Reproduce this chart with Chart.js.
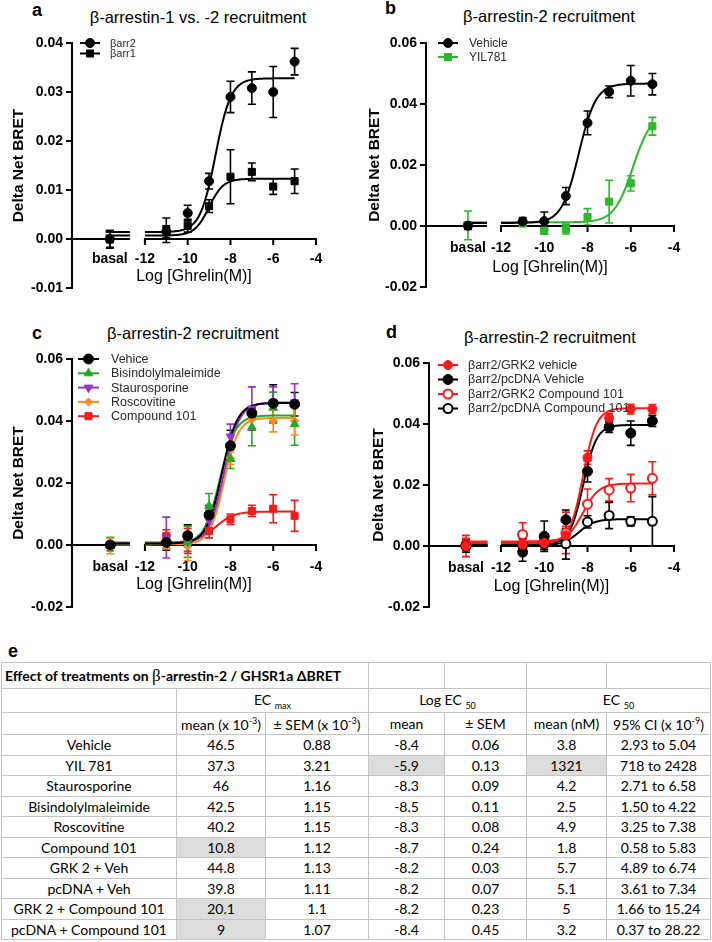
<!DOCTYPE html>
<html>
<head>
<meta charset="utf-8">
<script src="https://cdn.jsdelivr.net/npm/chart.js"></script>
<style>
  body { margin: 0; background: #fff; width: 712px; height: 942px; position: relative; overflow: hidden;
         font-family: "Liberation Sans", Arial, sans-serif; color: #000; }
  canvas { position: absolute; }
  .letter { position: absolute; font-weight: bold; font-size: 18px; line-height: 20px; }
  .title { position: absolute; width: 300px; text-align: center; font-size: 16.5px; line-height: 20px; }
  #tbl { position: absolute; left: 1px; top: 662px; border-collapse: collapse; table-layout: fixed;
         font-family: Lato, "Open Sans", sans-serif; font-size: 14px; }
  #tbl td { border: 1px solid #c4c4c4; text-align: center; padding: 0; white-space: nowrap; }
  #tbl td.grey { background: #dcdcdc; }
  #tbl sub, #tbl sup { font-size: 9px; }
</style>
</head>
<body>
<div class="letter" style="left:32px;top:0px">a</div>
<div class="title" style="left:48px;top:7px">&beta;-arrestin-1 vs. -2 recruitment</div>
<div class="letter" style="left:385px;top:-2px">b</div>
<div class="title" style="left:399px;top:6px">&beta;-arrestin-2 recruitment</div>
<div class="letter" style="left:32px;top:323px">c</div>
<div class="title" style="left:43px;top:323px">&beta;-arrestin-2 recruitment</div>
<div class="letter" style="left:386px;top:322px">d</div>
<div class="title" style="left:400px;top:327px">&beta;-arrestin-2 recruitment</div>
<div class="letter" style="left:8px;top:641px">e</div>

<canvas id="chartA" width="356" height="300" style="left:0;top:0"></canvas>
<canvas id="chartB" width="356" height="300" style="left:356px;top:0"></canvas>
<canvas id="chartC" width="356" height="330" style="left:0;top:300px"></canvas>
<canvas id="chartD" width="356" height="330" style="left:356px;top:300px"></canvas>
<table id="tbl"></table>

<script>
// x categories: log[ghrelin] doses; every series array below starts with the basal value
const doseLog = [-11, -10, -9, -8, -7, -6, -5];
const xTickValues = [-12, -10, -8, -6, -4];

// fits are [bottom, top, logEC50, hill]
// panel a
const arr2Mean = [0.0000, 0.0015, 0.0053, 0.0118, 0.0290, 0.0308, 0.0300, 0.0362];
const arr2Sem  = [0.0017, 0.0012, 0.0016, 0.0016, 0.0032, 0.0033, 0.0052, 0.0027];
const arr2Fit  = [0.0014, 0.0328, -8.7, 1.2];
const arr1Mean = [-0.0001, 0.0018, 0.0027, 0.0067, 0.0127, 0.0137, 0.0107, 0.0118];
const arr1Sem  = [0.0018, 0.0025, 0.0013, 0.0013, 0.0055, 0.0018, 0.0016, 0.0025];
const arr1Fit  = [0.0007, 0.0123, -9.0, 1.3];

// panel b
const vehBMean = [0.0001, 0.0015, 0.0016, 0.0098, 0.0338, 0.0440, 0.0476, 0.0465];
const vehBSem  = [0.0012, 0.0013, 0.0030, 0.0028, 0.0039, 0.0019, 0.0050, 0.0035];
const vehBFit  = [0.0010, 0.0467, -8.4, 1.1];
const yilMean  = [0.0002, 0.0008, -0.0015, -0.0010, 0.0030, 0.0080, 0.0140, 0.0327];
const yilSem   = [0.0047, 0.0008, 0.0012, 0.0016, 0.0027, 0.0070, 0.0025, 0.0029];
const yilFit   = [0.0012, 0.0373, -5.9, 1.0];

// panel c
const vehCMean = [0.0000, 0.0008, 0.0030, 0.0097, 0.0320, 0.0425, 0.0457, 0.0454];
const vehCSem  = [0.0010, 0.0025, 0.0035, 0.0030, 0.0050, 0.0015, 0.0060, 0.0038];
const vehCFit  = [0.0005, 0.0458, -8.4, 1.2];
const bisMean  = [0.0003, 0.0010, 0.0010, 0.0126, 0.0277, 0.0380, 0.0443, 0.0390];
const bisSem   = [0.0022, 0.0020, 0.0050, 0.0040, 0.0030, 0.0060, 0.0050, 0.0068];
const bisFit   = [0.0005, 0.0418, -8.5, 1.2];
const stauMean = [0.0000, 0.0024, 0.0010, 0.0080, 0.0350, 0.0440, 0.0460, 0.0460];
const stauSem  = [0.0010, 0.0066, 0.0030, 0.0030, 0.0040, 0.0070, 0.0050, 0.0060];
const stauFit  = [0.0005, 0.0460, -8.3, 1.2];
const roscMean = [-0.0003, 0.0010, -0.0005, 0.0085, 0.0280, 0.0405, 0.0400, 0.0400];
const roscSem  = [0.0025, 0.0020, 0.0045, 0.0030, 0.0020, 0.0030, 0.0035, 0.0045];
const roscFit  = [0.0002, 0.0410, -8.3, 1.3];
const cmpMean  = [0.0000, 0.0029, 0.0013, 0.0045, 0.0083, 0.0110, 0.0117, 0.0094];
const cmpSem   = [0.0010, 0.0020, 0.0040, 0.0022, 0.0017, 0.0018, 0.0045, 0.0050];
const cmpFit   = [0.0008, 0.0108, -8.7, 1.0];

// panel d
const grkVehMean = [0.0000, 0.0005, 0.0010, 0.0035, 0.0290, 0.0420, 0.0449, 0.0449];
const grkVehSem  = [0.0035, 0.0020, 0.0020, 0.0030, 0.0022, 0.0015, 0.0016, 0.0015];
const grkVehFit  = [0.0010, 0.0452, -8.2, 1.4];
const pcVehMean  = [0.0000, -0.0020, 0.0032, 0.0086, 0.0245, 0.0390, 0.0370, 0.0410];
const pcVehSem   = [0.0020, 0.0030, 0.0050, 0.0032, 0.0035, 0.0018, 0.0040, 0.0018];
const pcVehFit   = [0.0005, 0.0397, -8.2, 1.4];
const grkCmpMean = [0.0005, 0.0038, 0.0016, 0.0043, 0.0137, 0.0184, 0.0190, 0.0222];
const grkCmpSem  = [0.0020, 0.0038, 0.0020, 0.0068, 0.0050, 0.0037, 0.0045, 0.0054];
const grkCmpFit  = [0.0015, 0.0205, -8.2, 1.2];
const pcCmpMean  = [0.0000, 0.0003, 0.0008, 0.0007, 0.0079, 0.0100, 0.0081, 0.0081];
const pcCmpSem   = [0.0010, 0.0020, 0.0020, 0.0050, 0.0020, 0.0043, 0.0015, 0.0081];
const pcCmpFit   = [0.0002, 0.0088, -8.4, 1.2];

// panel e table
const tableTitle = 'Effect of treatments on <span style="font-family:\'Liberation Serif\',serif;font-weight:normal;font-size:17px">&beta;</span>-arrestin-2 / GHSR1a &Delta;BRET';
const treatments = ['Vehicle', 'YIL 781', 'Staurosporine', 'Bisindolylmaleimide', 'Roscovitine', 'Compound 101',
                    'GRK 2 + Veh', 'pcDNA + Veh', 'GRK 2 + Compound 101', 'pcDNA + Compound 101'];
const ecMaxMean = ['46.5', '37.3', '46', '42.5', '40.2', '10.8', '44.8', '39.8', '20.1', '9'];
const ecMaxSem  = ['0.88', '3.21', '1.16', '1.15', '1.15', '1.12', '1.13', '1.11', '1.1', '1.07'];
const logEcMean = ['-8.4', '-5.9', '-8.3', '-8.5', '-8.3', '-8.7', '-8.2', '-8.2', '-8.2', '-8.4'];
const logEcSem  = ['0.06', '0.13', '0.09', '0.11', '0.08', '0.24', '0.03', '0.07', '0.23', '0.45'];
const ec50Mean  = ['3.8', '1321', '4.2', '2.5', '4.9', '1.8', '5.7', '5.1', '5', '3.2'];
const ec50Ci    = ['2.93 to 5.04', '718 to 2428', '2.71 to 6.58', '1.50 to 4.22', '3.25 to 7.38', '0.58 to 5.83',
                   '4.89 to 6.74', '3.61 to 7.34', '1.66 to 15.24', '0.37 to 28.22'];
const greyCells = [[1, 3], [1, 5], [5, 1], [8, 1], [9, 1]]; // [row, column]

Chart.defaults.font.family = '"Liberation Sans", Arial, sans-serif';
const FONT = '"Liberation Sans", Arial, sans-serif';

function fitCurve(p, basalX, segEnd) {
  const [bottom, top, ec, hill] = p;
  const f = x => bottom + (top - bottom) / (1 + Math.pow(10, (ec - x) * hill));
  const out = [{x: basalX - 0.2, y: f(-12)}, {x: segEnd, y: f(-12)}, {x: segEnd + 0.1, y: null}];
  for (let i = 0; i <= 140; i++) {
    const x = -12 + i * 0.05;
    out.push({x: x, y: f(x)});
  }
  return out;
}

function drawMarker(ctx, s, x, y) {
  ctx.save();
  ctx.fillStyle = s.fill;
  ctx.strokeStyle = s.color;
  ctx.lineWidth = s.bw || 1;
  if (Chart.helpers && Chart.helpers.drawPoint) {
    Chart.helpers.drawPoint(ctx, {pointStyle: s.style, radius: s.r || 4.5, rotation: s.rot || 0, borderWidth: s.bw || 1}, x, y);
  } else {
    ctx.beginPath(); ctx.arc(x, y, s.r || 4.5, 0, Math.PI * 2); ctx.fill(); ctx.stroke();
  }
  ctx.restore();
}

function makePanel(id, cfg) {
  const datasets = [];
  cfg.series.forEach(s => {
    const pts = [{x: cfg.basalX, y: s.mean[0]}].concat(doseLog.map((d, i) => ({x: d, y: s.mean[i + 1]})));
    datasets.push({
      label: s.label, data: pts, sem: s.sem, showLine: false, clip: false, order: 0,
      pointStyle: s.style, pointRadius: s.r || 4.5, pointRotation: s.rot || 0,
      pointBackgroundColor: s.fill, pointBorderColor: s.color, pointBorderWidth: s.bw || 1,
      borderColor: s.color, backgroundColor: s.fill
    });
  });
  cfg.series.forEach(s => {
    datasets.push({
      data: fitCurve(s.fit, cfg.basalX, cfg.segEnd), showLine: true, spanGaps: false, clip: false, order: 1,
      pointRadius: 0, borderColor: s.color, borderWidth: 2, tension: 0
    });
  });

  const errorBars = {
    id: 'errorBars',
    beforeDatasetsDraw(chart) {
      const {ctx, scales: {x, y}} = chart;
      ctx.save();
      ctx.lineWidth = 1.6;
      chart.data.datasets.forEach(ds => {
        if (!ds.sem) return;
        ctx.strokeStyle = ds.borderColor;
        ds.data.forEach((p, i) => {
          const px = x.getPixelForValue(p.x);
          const yt = y.getPixelForValue(p.y + ds.sem[i]);
          const yb = y.getPixelForValue(p.y - ds.sem[i]);
          ctx.beginPath();
          ctx.moveTo(px, yt); ctx.lineTo(px, yb);
          ctx.moveTo(px - 4, yt); ctx.lineTo(px + 4, yt);
          ctx.moveTo(px - 4, yb); ctx.lineTo(px + 4, yb);
          ctx.stroke();
        });
      });
      ctx.restore();
    }
  };

  const brokenAxis = {
    id: 'brokenAxis',
    beforeDatasetsDraw(chart) {
      const {ctx, chartArea, scales: {x, y}} = chart;
      const y0 = y.getPixelForValue(0);
      ctx.save();
      ctx.strokeStyle = '#000';
      ctx.lineWidth = 2;
      ctx.beginPath();
      ctx.moveTo(chartArea.left, y0); ctx.lineTo(x.getPixelForValue(cfg.segEnd), y0);
      ctx.moveTo(x.getPixelForValue(xTickValues[0]) - 1, y0);
      ctx.lineTo(x.getPixelForValue(xTickValues[xTickValues.length - 1]) + 1, y0);
      xTickValues.forEach(v => {
        const px = x.getPixelForValue(v);
        ctx.moveTo(px, y0); ctx.lineTo(px, y0 + 6);
      });
      ctx.stroke();
      ctx.fillStyle = '#000';
      ctx.textAlign = 'center';
      ctx.textBaseline = 'middle';
      ctx.font = 'bold 14px ' + FONT;
      ctx.fillText('basal', x.getPixelForValue(cfg.basalX), y0 + cfg.labelDy);
      xTickValues.forEach(v => ctx.fillText(String(v), x.getPixelForValue(v), y0 + cfg.labelDy));
      ctx.font = '16px ' + FONT;
      ctx.fillText('Log [Ghrelin(M)]', (chartArea.left + chartArea.right) / 2, y0 + cfg.titleDy);
      ctx.restore();
    }
  };

  const seriesLegend = {
    id: 'seriesLegend',
    afterDraw(chart) {
      const {ctx} = chart;
      const L = cfg.legend;
      ctx.save();
      cfg.series.forEach((s, i) => {
        const yy = L.y + i * L.dy;
        ctx.strokeStyle = s.color;
        ctx.lineWidth = 2;
        ctx.beginPath(); ctx.moveTo(L.x1, yy); ctx.lineTo(L.x2, yy); ctx.stroke();
        drawMarker(ctx, s, (L.x1 + L.x2) / 2, yy);
        ctx.fillStyle = '#2a2a2a';
        ctx.font = L.size + 'px ' + FONT;
        ctx.textAlign = 'left';
        ctx.textBaseline = 'middle';
        ctx.fillText(s.label, L.tx, yy + 0.5);
      });
      ctx.restore();
    }
  };

  return new Chart(document.getElementById(id), {
    type: 'scatter',
    data: {datasets},
    options: {
      responsive: false,
      animation: false,
      layout: {padding: cfg.pad},
      plugins: {legend: {display: false}, tooltip: {enabled: false}},
      scales: {
        x: {type: 'linear', min: cfg.xMin, max: -4, display: false},
        y: {
          min: cfg.yMin, max: cfg.yMax,
          ticks: {stepSize: cfg.yStep, callback: v => v.toFixed(2), color: '#000', padding: 3,
                  font: {size: 14, weight: 'bold'}},
          grid: {drawOnChartArea: false, drawTicks: true, tickLength: 6, color: '#000', lineWidth: 2},
          border: {display: true, color: '#000', width: 2},
          title: {display: true, text: 'Delta Net BRET', color: '#000', padding: {top: cfg.yTitlePad, bottom: 0},
                  font: {size: 15.5, weight: 'bold'}},
          afterFit(scale) { scale.width = cfg.yWidth; }
        }
      }
    },
    plugins: [errorBars, brokenAxis, seriesLegend]
  });
}

const BLACK = '#000000';

makePanel('chartA', {
  xMin: -15.41, basalX: -13.64, segEnd: -12.70, yMin: -0.01, yMax: 0.04, yStep: 0.01,
  yWidth: 72, yTitlePad: 9, pad: {top: 43, right: 40, bottom: 12, left: 0}, labelDy: 20, titleDy: 38,
  legend: {x1: 80, x2: 100, tx: 110, y: 43, dy: 10.5, size: 11},
  series: [
    {label: '\u03B2arr2', mean: arr2Mean, sem: arr2Sem, fit: arr2Fit, style: 'circle', color: BLACK, fill: BLACK},
    {label: '\u03B2arr1', mean: arr1Mean, sem: arr1Sem, fit: arr1Fit, style: 'rect', r: 5, color: BLACK, fill: BLACK}
  ]
});

makePanel('chartB', {
  xMin: -15.47, basalX: -13.53, segEnd: -12.65, yMin: -0.02, yMax: 0.06, yStep: 0.02,
  yWidth: 70, yTitlePad: 9, pad: {top: 43, right: 38, bottom: 13, left: 0}, labelDy: 22, titleDy: 42,
  legend: {x1: 82, x2: 102, tx: 113, y: 43, dy: 14, size: 12},
  series: [
    {label: 'Vehicle', mean: vehBMean, sem: vehBSem, fit: vehBFit, style: 'circle', color: BLACK, fill: BLACK},
    {label: 'YIL781', mean: yilMean, sem: yilSem, fit: yilFit, style: 'rect', r: 5, color: '#2cb82c', fill: '#2cb82c'}
  ]
});

makePanel('chartC', {
  xMin: -15.41, basalX: -13.62, segEnd: -12.70, yMin: -0.02, yMax: 0.06, yStep: 0.02,
  yWidth: 72, yTitlePad: 9, pad: {top: 59, right: 40, bottom: 23, left: 0}, labelDy: 22, titleDy: 40,
  legend: {x1: 78, x2: 99, tx: 111, y: 59, dy: 14.3, size: 12.5},
  series: [
    {label: 'Vehice', mean: vehCMean, sem: vehCSem, fit: vehCFit, style: 'circle', r: 5, color: BLACK, fill: BLACK},
    {label: 'Bisindolylmaleimide', mean: bisMean, sem: bisSem, fit: bisFit, style: 'triangle', r: 5, color: '#22aa22', fill: '#22aa22'},
    {label: 'Staurosporine', mean: stauMean, sem: stauSem, fit: stauFit, style: 'triangle', rot: 180, r: 5, color: '#9a30d0', fill: '#9a30d0'},
    {label: 'Roscovitine', mean: roscMean, sem: roscSem, fit: roscFit, style: 'rectRot', r: 4, color: '#ff8a1a', fill: '#ff8a1a'},
    {label: 'Compound 101', mean: cmpMean, sem: cmpSem, fit: cmpFit, style: 'rect', r: 5, color: '#ee1c1c', fill: '#ee1c1c'}
  ]
});

makePanel('chartD', {
  xMin: -15.33, basalX: -13.62, segEnd: -12.62, yMin: -0.02, yMax: 0.06, yStep: 0.02,
  yWidth: 73, yTitlePad: 13, pad: {top: 63, right: 38, bottom: 23, left: 0}, labelDy: 22, titleDy: 41,
  legend: {x1: 82, x2: 102, tx: 112, y: 65, dy: 14.5, size: 12.5},
  series: [
    {label: '\u03B2arr2/GRK2 vehicle', mean: grkVehMean, sem: grkVehSem, fit: grkVehFit, style: 'circle', color: '#ff1a1a', fill: '#ff1a1a'},
    {label: '\u03B2arr2/pcDNA Vehicle', mean: pcVehMean, sem: pcVehSem, fit: pcVehFit, style: 'circle', r: 5, color: BLACK, fill: BLACK},
    {label: '\u03B2arr2/GRK2 Compound 101', mean: grkCmpMean, sem: grkCmpSem, fit: grkCmpFit, style: 'circle', bw: 2, color: '#ff1a1a', fill: '#ffffff'},
    {label: '\u03B2arr2/pcDNA Compound 101', mean: pcCmpMean, sem: pcCmpSem, fit: pcCmpFit, style: 'circle', bw: 2, color: BLACK, fill: '#ffffff'}
  ]
});

// table e
const colWidths = [175, 89, 103, 76, 82, 80, 104];
const rowHeights = [26, 24, 22];
const dataRowHeight = 20.5;
let html = '<colgroup>' + colWidths.map(w => '<col style="width:' + w + 'px">').join('') + '</colgroup>';
html += '<tr style="height:' + rowHeights[0] + 'px"><td colspan="3" style="text-align:left;padding-left:3px;font-weight:bold">' + tableTitle +
        '</td><td></td><td></td><td></td><td></td></tr>';
html += '<tr style="height:' + rowHeights[1] + 'px"><td></td><td colspan="2">EC <sub>max</sub></td><td colspan="2">Log EC <sub>50</sub></td><td colspan="2">EC <sub>50</sub></td></tr>';
html += '<tr style="height:' + rowHeights[2] + 'px"><td></td><td>mean (x 10<sup>-3</sup>)</td><td>&plusmn; SEM (x 10<sup>-3</sup>)</td><td>mean</td><td>&plusmn; SEM</td><td>mean (nM)</td><td>95% CI (x 10<sup>-9</sup>)</td></tr>';
treatments.forEach((t, r) => {
  const cells = [t, ecMaxMean[r], ecMaxSem[r], logEcMean[r], logEcSem[r], ec50Mean[r], ec50Ci[r]];
  html += '<tr style="height:' + dataRowHeight + 'px">' + cells.map((c, col) => {
    const grey = greyCells.some(g => g[0] === r && g[1] === col);
    return '<td' + (grey ? ' class="grey"' : '') + '>' + c + '</td>';
  }).join('') + '</tr>';
});
document.getElementById('tbl').innerHTML = html;
</script>
</body>
</html>
